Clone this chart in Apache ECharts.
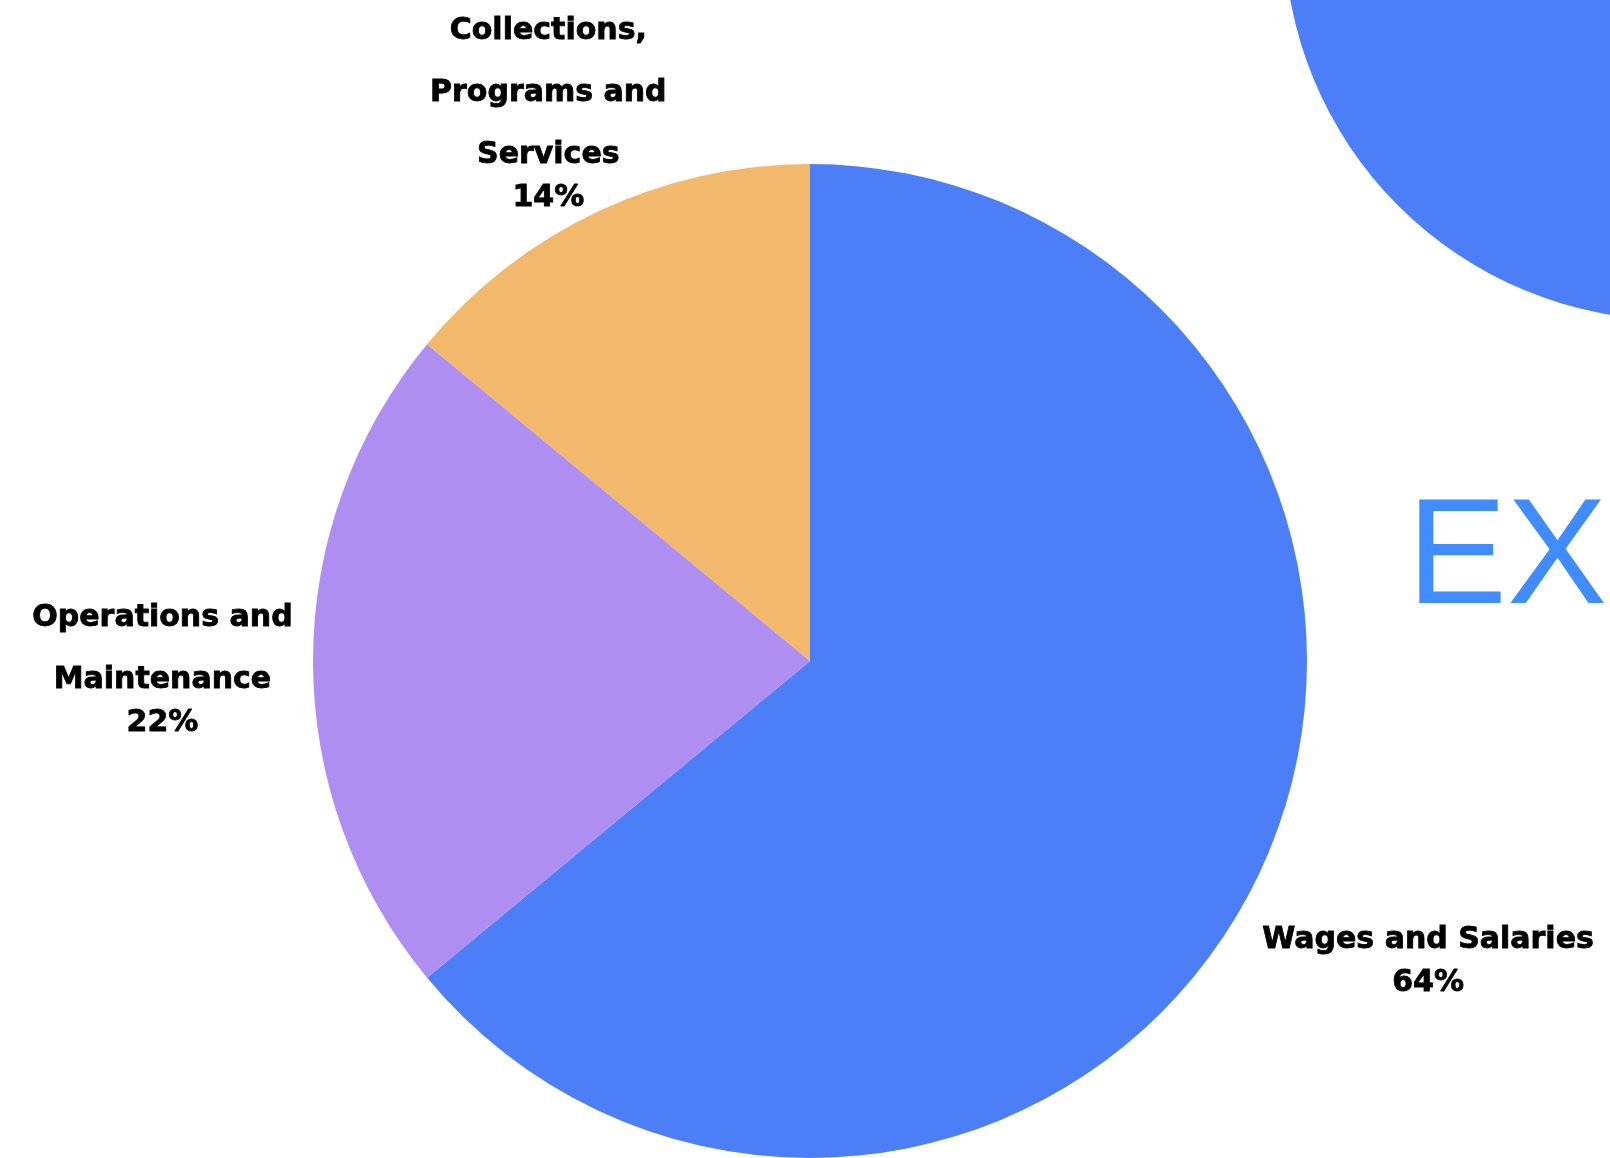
<!DOCTYPE html>
<html>
<head>
<meta charset="utf-8">
<title>Expenses pie</title>
<script src="https://cdn.jsdelivr.net/npm/echarts@6/dist/echarts.min.js"></script>
<style>
  html, body { margin: 0; padding: 0; background: #fff; }
  #chart { width: 1610px; height: 1158px; }
</style>
</head>
<body>
<div id="chart"></div>
<script>
  // data
  var categories = ['Wages and Salaries', 'Operations and Maintenance', 'Collections, Programs and Services'];
  var labelLines = [['Wages and Salaries'], ['Operations and', 'Maintenance'], ['Collections,', 'Programs and', 'Services']];
  var shares = [64, 22, 14];
  var colors = ['#4c7ff7', '#af8ef2', '#f2b86c'];

  var cx = 810, cy = 661, R = 497;
  var total = shares.reduce(function (a, b) { return a + b; }, 0);

  var chart = echarts.init(document.getElementById('chart'));

  var labelFont = {
    fontFamily: 'DejaVu Sans',
    fontWeight: 'bold',
    fontSize: 30,
    color: '#000',
    textBorderColor: '#000',
    textBorderWidth: 0.8,
    align: 'center'
  };

  var option = {
    animation: false,
    backgroundColor: '#fff',
    graphic: [
      {
        type: 'circle',
        shape: { cx: 1674, cy: -70, r: 390 },
        style: { fill: '#4c7ff7' },
        silent: true
      },
      {
        type: 'text',
        x: 1407,
        y: 562,
        style: {
          text: 'EX',
          fill: '#408cff',
          font: '400 150px "Liberation Sans"',
          verticalAlign: 'middle',
          align: 'left'
        },
        silent: true
      }
    ],
    series: [
      {
        type: 'pie',
        center: [cx, cy],
        radius: [0, R],
        startAngle: 90,
        clockwise: true,
        avoidLabelOverlap: false,
        itemStyle: { borderWidth: 0 },
        labelLine: { show: false },
        label: {
          show: true,
          position: 'outside',
          align: 'center',
          color: '#000',
          formatter: function (p) {
            var lines = labelLines[p.dataIndex].map(function (t) { return '{n|' + t + '}'; });
            return lines.join('\n') + '\n{p|' + Math.round(p.percent) + '%}';
          },
          rich: {
            n: Object.assign({ lineHeight: 62 }, labelFont),
            p: Object.assign({ lineHeight: 24 }, labelFont)
          }
        },
        labelLayout: function (p) {
          var before = 0;
          for (var i = 0; i < p.dataIndex; i++) before += shares[i];
          var mid = (90 - 360 * (before + shares[p.dataIndex] / 2) / total) * Math.PI / 180;
          var dx = Math.cos(mid), dy = -Math.sin(mid);
          var hw = p.labelRect.width / 2, hh = p.labelRect.height / 2;
          var d = R + 20 + hw * Math.abs(dx) + hh * Math.abs(dy);
          // keep the label inside the top edge, sliding it back along its ray
          if (cy + dy * d - hh < 6 && dy < 0) {
            d = (cy - hh - 6) / -dy;
          }
          return {
            x: cx + dx * d,
            y: cy + dy * d,
            align: 'center',
            verticalAlign: 'middle'
          };
        },
        emphasis: { disabled: true },
        data: categories.map(function (name, i) {
          return { name: name, value: shares[i], itemStyle: { color: colors[i] } };
        })
      }
    ]
  };

  chart.setOption(option);
</script>
</body>
</html>
